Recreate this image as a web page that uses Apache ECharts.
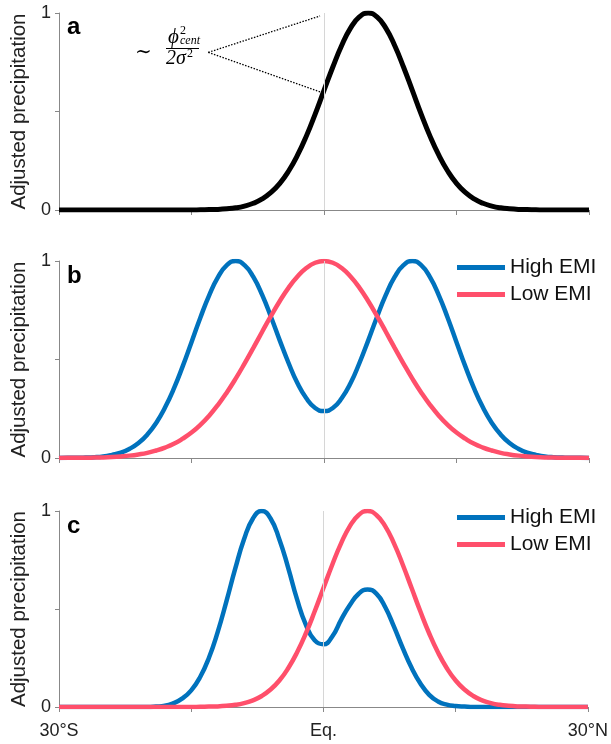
<!DOCTYPE html>
<html>
<head>
<meta charset="utf-8">
<script src="https://cdn.jsdelivr.net/npm/echarts@6/dist/echarts.min.js"></script>
<style>
  html, body { margin: 0; padding: 0; background: #fff; }
  #chart { width: 611px; height: 744px; }
</style>
</head>
<body>
<div id="chart"></div>
<script>
// latitude (deg), negative = south
var lat = [-30, -29, -28, -27, -26, -25, -24, -23, -22, -21, -20, -19, -18, -17, -16, -15,
  -14, -13, -12, -11, -10, -9, -8, -7, -6, -5, -4, -3, -2, -1, 0,
  1, 2, 3, 4, 5, 6, 7, 8, 9, 10, 11, 12, 13, 14, 15,
  16, 17, 18, 19, 20, 21, 22, 23, 24, 25, 26, 27, 28, 29, 30];

var xTickLabels = { '-30': '30°S', '0': 'Eq.', '30': '30°N' };
var seriesNames = ['High EMI', 'Low EMI'];

// panel a: single band
var panelA = [0, 0, 0, 0, 0, 0, 0, 0, 0, 0, 0, 0, 0, 0, 0, 0,
  0.001, 0.002, 0.003, 0.006, 0.011, 0.020, 0.034, 0.056, 0.089, 0.135, 0.198, 0.278, 0.375, 0.487, 0.607,
  0.726, 0.835, 0.923, 0.980, 1, 0.980, 0.923, 0.835, 0.726, 0.607, 0.487, 0.375, 0.278, 0.198, 0.135,
  0.089, 0.056, 0.034, 0.020, 0.011, 0.006, 0.003, 0.002, 0.001, 0, 0, 0, 0, 0, 0];

// panel b
var highB = [0, 0.001, 0.001, 0.002, 0.004, 0.008, 0.016, 0.027, 0.047, 0.076, 0.119, 0.178, 0.256, 0.352, 0.465, 0.588,
  0.712, 0.826, 0.918, 0.979, 1, 0.979, 0.919, 0.828, 0.716, 0.596, 0.481, 0.379, 0.303, 0.254, 0.238,
  0.254, 0.303, 0.379, 0.481, 0.596, 0.716, 0.828, 0.919, 0.979, 1, 0.979, 0.918, 0.826, 0.712, 0.588,
  0.465, 0.352, 0.256, 0.178, 0.119, 0.076, 0.047, 0.027, 0.016, 0.008, 0.004, 0.002, 0.001, 0.001, 0];
var lowB = [0, 0.001, 0.001, 0.001, 0.002, 0.003, 0.005, 0.008, 0.012, 0.018, 0.026, 0.038, 0.053, 0.072, 0.098, 0.129,
  0.168, 0.215, 0.270, 0.333, 0.403, 0.479, 0.559, 0.641, 0.721, 0.797, 0.865, 0.921, 0.964, 0.991, 1,
  0.991, 0.964, 0.921, 0.865, 0.797, 0.721, 0.641, 0.559, 0.479, 0.403, 0.333, 0.270, 0.215, 0.168, 0.129,
  0.098, 0.072, 0.053, 0.038, 0.026, 0.018, 0.012, 0.008, 0.005, 0.003, 0.002, 0.001, 0.001, 0.001, 0];

// panel c
var highC = [0, 0, 0, 0, 0, 0, 0, 0, 0, 0, 0, 0.002, 0.006, 0.020, 0.044, 0.085,
  0.152, 0.250, 0.382, 0.540, 0.707, 0.857, 0.962, 1, 0.962, 0.855, 0.710, 0.550, 0.420, 0.340, 0.320,
  0.360, 0.445, 0.520, 0.578, 0.600, 0.578, 0.510, 0.410, 0.300, 0.200, 0.120, 0.062, 0.028, 0.012, 0.005,
  0.002, 0, 0, 0, 0, 0, 0, 0, 0, 0, 0, 0, 0, 0, 0];
var lowC = [0, 0, 0, 0, 0, 0, 0, 0, 0, 0, 0, 0, 0, 0, 0, 0,
  0.001, 0.002, 0.003, 0.006, 0.011, 0.020, 0.034, 0.056, 0.089, 0.135, 0.198, 0.278, 0.375, 0.487, 0.607,
  0.726, 0.835, 0.923, 0.980, 1, 0.980, 0.923, 0.835, 0.726, 0.607, 0.487, 0.375, 0.278, 0.198, 0.135,
  0.089, 0.056, 0.034, 0.020, 0.011, 0.006, 0.003, 0.002, 0.001, 0, 0, 0, 0, 0, 0];

var BLUE = '#0072BD';
var RED = '#FF4F6B';
var SANS = 'Liberation Sans, Arial, sans-serif';
var SERIF = 'Liberation Serif, DejaVu Serif, serif';

function pairs(vals) {
  return lat.map(function (x, i) { return [x, vals[i]]; });
}

var grids = [
  { left: 59, right: 22, top: 13, height: 197 },
  { left: 59, right: 22, top: 261, height: 197 },
  { left: 59, right: 22, top: 511, height: 196 }
];

function xAxis(i) {
  return {
    gridIndex: i, type: 'value', min: -30, max: 30, interval: 15,
    axisLine: { onZero: false, lineStyle: { color: '#888', width: 1 } },
    axisTick: { length: 5, lineStyle: { color: '#888' } },
    splitLine: { show: false },
    axisLabel: {
      show: i === 2, margin: 15, fontSize: 18, color: '#222', fontFamily: SANS,
      formatter: function (v) { return xTickLabels[String(v)] || ''; }
    }
  };
}

function yAxis(i) {
  return {
    gridIndex: i, type: 'value', min: 0, max: 1, interval: 0.5,
    name: 'Adjusted precipitation', nameLocation: 'middle', nameGap: 29,
    nameTextStyle: { fontSize: 20.5, color: '#222', fontFamily: SANS },
    axisLine: { show: true, onZero: false, lineStyle: { color: '#888', width: 1 } },
    axisTick: { show: true, length: 4, lineStyle: { color: '#888' } },
    splitLine: { show: false },
    axisLabel: {
      margin: 8, fontSize: 18, color: '#222', fontFamily: SANS,
      formatter: function (v) { return v === 0 ? '0' : (v === 1 ? '1' : ''); }
    }
  };
}

function eqLine(i) {
  return {
    type: 'line', xAxisIndex: i, yAxisIndex: i, data: [], z: 1, silent: true,
    markLine: {
      symbol: 'none', silent: true, animation: false, label: { show: false },
      lineStyle: { color: '#d6d6d6', width: 1, type: 'solid' },
      data: [{ xAxis: 0 }]
    }
  };
}

function curve(i, name, vals, color) {
  return {
    type: 'line', name: name, xAxisIndex: i, yAxisIndex: i, data: pairs(vals),
    showSymbol: false, smooth: true, z: 3,
    lineStyle: { color: color, width: 4.5 }, itemStyle: { color: color }
  };
}

var panelA_series = curve(0, 'a', panelA, '#000');
panelA_series.lineStyle.width = 5;
// dotted guide lines from the formula to the curve
panelA_series.markLine = {
  symbol: 'none', silent: true, animation: false, label: { show: false },
  lineStyle: { color: '#000', width: 1.3, type: [1.5, 1.5] },
  data: [
    [{ coord: [-13.1, 0.80] }, { coord: [-0.45, 0.985] }],
    [{ coord: [-13.1, 0.80] }, { coord: [-0.45, 0.60] }]
  ]
};

function legend(top) {
  return {
    data: seriesNames, orient: 'vertical', left: 457, top: top, padding: 0,
    icon: 'rect', itemWidth: 48, itemHeight: 5, itemGap: 6,
    textStyle: { fontSize: 21, color: '#111', fontFamily: SANS },
    selectedMode: false
  };
}

function txt(x, y, s, size, family, style, weight) {
  return {
    type: 'text', x: x, y: y, silent: true,
    style: {
      text: s, fontSize: size, fontFamily: family, fontStyle: style || 'normal',
      fontWeight: weight || 'normal', fill: '#000', verticalAlign: 'middle'
    }
  };
}

var chart = echarts.init(document.getElementById('chart'));
chart.setOption({
  animation: false,
  backgroundColor: '#fff',
  grid: grids,
  xAxis: [xAxis(0), xAxis(1), xAxis(2)],
  yAxis: [yAxis(0), yAxis(1), yAxis(2)],
  legend: [legend(257), legend(507)],
  series: [
    eqLine(0), eqLine(1), eqLine(2),
    panelA_series,
    curve(1, 'High EMI', highB, BLUE),
    curve(1, 'Low EMI', lowB, RED),
    curve(2, 'High EMI', highC, BLUE),
    curve(2, 'Low EMI', lowC, RED)
  ],
  graphic: [
    txt(67, 27, 'a', 24, SANS, 'normal', 'bold'),
    txt(67, 276, 'b', 24, SANS, 'normal', 'bold'),
    txt(67, 526, 'c', 24, SANS, 'normal', 'bold'),
    // ~ phi_cent^2 / (2 sigma^2)
    txt(135, 53, '\u223C', 20, 'DejaVu Serif, serif'),
    txt(168, 37, '\u03D5', 21, SERIF, 'italic'),
    txt(180, 31, '2', 12, SERIF),
    txt(180, 41, 'cent', 12, SERIF, 'italic'),
    { type: 'line', silent: true, shape: { x1: 166, y1: 48.5, x2: 199, y2: 48.5 },
      style: { stroke: '#000', lineWidth: 1 } },
    txt(166, 59, '2\u03C3', 20, SERIF, 'italic'),
    txt(187, 54, '2', 12, SERIF)
  ]
});
</script>
</body>
</html>
